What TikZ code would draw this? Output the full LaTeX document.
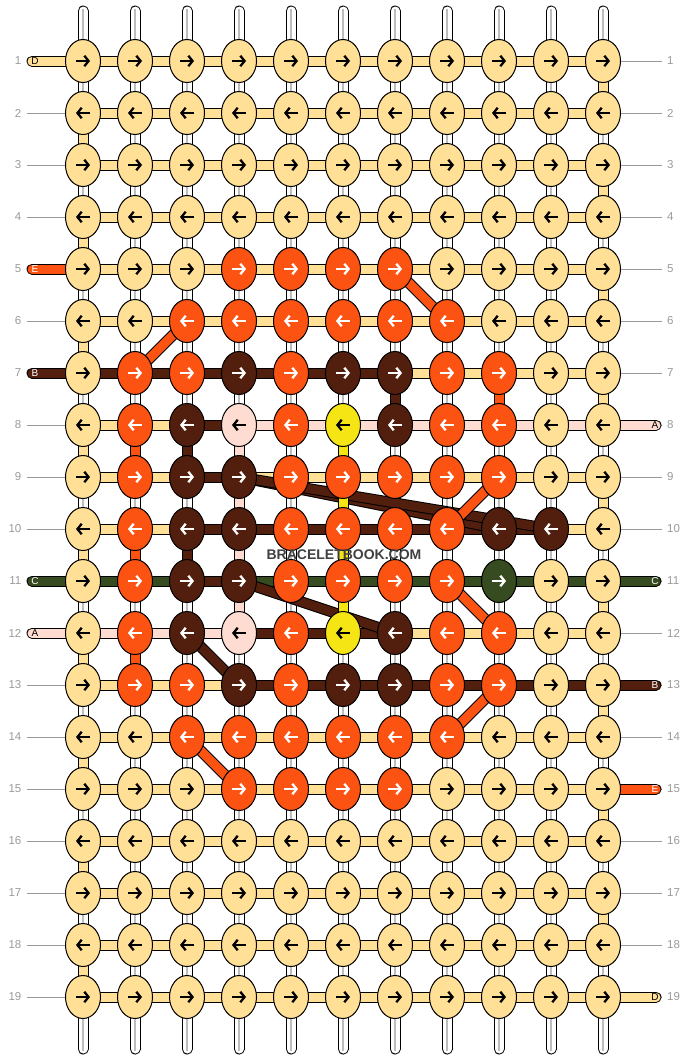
\documentclass[tikz,border=0pt]{standalone}
\usepackage{fontspec}
\setmainfont{Liberation Sans}
\usetikzlibrary{shapes.geometric}
\usetikzlibrary{arrows.meta}
\usetikzlibrary{backgrounds}

\definecolor{cD}{HTML}{FFE096}
\definecolor{cE}{HTML}{FC5313}
\definecolor{cB}{HTML}{521F0F}
\definecolor{cC}{HTML}{364B1F}
\definecolor{cA}{HTML}{FFDCD1}
\definecolor{cY}{HTML}{F6E515}
\colorlet{aD}{black}
\colorlet{aE}{white}
\colorlet{aB}{white}
\colorlet{aC}{white}
\colorlet{aA}{black}
\colorlet{aY}{black}
\definecolor{numgray}{HTML}{9A9A9A}
\definecolor{warpgray}{HTML}{BDBDBD}
\definecolor{markgray}{HTML}{404040}

\begin{document}
\begin{tikzpicture}[x=1pt, y=-1pt,
  knot/.style={ellipse, draw=black, line width=1pt, minimum width=35pt, minimum height=43pt, inner sep=0pt},
  strand/.style={draw=black, line width=1pt, double=#1, double distance=9pt},
  warp/.style={strand=white, line cap=round},
  dirarrow/.style={line width=2.3pt, -{Straight Barb[length=4.2pt, width=10.5pt]}},
  rownum/.style={numgray, font=\fontsize{11.5}{11.5}\selectfont, inner sep=0pt},
  tag/.style={font=\fontsize{10}{10}\selectfont, inner sep=0pt}]
\useasboundingbox (0,0) rectangle (688,1060);
\foreach \r/\row in {
  1/{D,D,D,D,D,D,D,D,D,D,D},
  2/{D,D,D,D,D,D,D,D,D,D,D},
  3/{D,D,D,D,D,D,D,D,D,D,D},
  4/{D,D,D,D,D,D,D,D,D,D,D},
  5/{D,D,D,E,E,E,E,D,D,D,D},
  6/{D,D,E,E,E,E,E,E,D,D,D},
  7/{D,E,E,B,E,B,B,E,E,D,D},
  8/{D,E,B,A,E,Y,B,E,E,D,D},
  9/{D,E,B,B,E,E,E,E,E,D,D},
  10/{D,E,B,B,E,E,E,E,B,B,D},
  11/{D,E,B,B,E,E,E,E,C,D,D},
  12/{D,E,B,A,E,Y,B,E,E,D,D},
  13/{D,E,E,B,E,B,B,E,E,D,D},
  14/{D,D,E,E,E,E,E,E,D,D,D},
  15/{D,D,D,E,E,E,E,D,D,D,D},
  16/{D,D,D,D,D,D,D,D,D,D,D},
  17/{D,D,D,D,D,D,D,D,D,D,D},
  18/{D,D,D,D,D,D,D,D,D,D,D},
  19/{D,D,D,D,D,D,D,D,D,D,D}} {
  \foreach \k [count=\c] in \row {
    \node[knot, fill=c\k] (k\r-\c) at ({83+52*(\c-1)}, {61+52*(\r-1)}) {};
    \pgfmathsetmacro{\dir}{1-2*mod(\r+1,2)}
    \draw[a\k, dirarrow] (k\r-\c.center) ++({-7*\dir},0) -- ++({14*\dir},0);
  }
  \node[rownum, anchor=east] (nl\r) at (21.5, {61+52*(\r-1)}) {\r};
  \node[rownum, anchor=west] (nr\r) at (667, {61+52*(\r-1)}) {\r};
}
\begin{scope}[on background layer]
\foreach \c in {1,...,11} {
  \coordinate (top\c) at ([yshift=50pt]k1-\c.center);
  \coordinate (bot\c) at ([yshift=-52pt]k19-\c.center);
  \draw[warp] (top\c) -- (bot\c);
  \draw[warpgray, line width=1.3pt] ([yshift=2pt]top\c) -- ([yshift=-2pt]bot\c);
}
\foreach \r in {1,...,19} {
  \draw[numgray, line width=0.7pt] ([xshift=5.5pt]nl\r.east) -- (k\r-1.west);
  \draw[numgray, line width=0.7pt] (k\r-11.east) -- ([xshift=-5pt]nr\r.west);
  \draw[strand=cD] (k\r-1.center) -- (k\r-11.center);
}
\foreach \r/\a/\b/\s in {7/1/7/B, 8/3/4/B, 8/4/11/A, 9/3/4/B, 10/3/10/B, 11/1/11/C, 11/3/4/B, 12/1/4/A, 12/4/7/B, 13/4/11/B}
  \draw[strand=c\s] (k\r-\a.center) -- (k\r-\b.center);
\foreach \r/\s in {1/D, 5/E, 7/B, 11/C, 12/A} {
  \coordinate (in\r) at (32, {61+52*(\r-1)});
  \draw[strand=c\s, line cap=round] (in\r) -- (k\r-1.center);
  \node[tag, a\s] (tl\r) at (35, {61+52*(\r-1)}) {\s};
}
\foreach \r/\s in {8/A, 11/C, 13/B, 15/E, 19/D} {
  \coordinate (out\r) at (656, {61+52*(\r-1)});
  \draw[strand=c\s, line cap=round] (k\r-11.center) -- (out\r);
  \node[tag, a\s] (tr\r) at (655, {61+52*(\r-1)}) {\s};
}
\foreach \ra/\ca/\rb/\cb/\s in {9/4/10/9/B, 9/4/10/10/B, 11/4/12/7/B, 12/3/13/4/B, 5/7/6/8/E, 6/3/7/2/E, 9/9/10/8/E, 11/8/12/9/E, 13/9/14/8/E, 14/3/15/4/E}
  \draw[strand=c\s] (k\ra-\ca.center) -- (k\rb-\cb.center);
\foreach \c/\ra/\rb/\s in {7/7/8/B, 9/7/8/E, 2/8/9/E, 3/8/9/B, 4/8/12/A, 6/8/12/Y, 2/10/11/E, 3/10/11/B, 2/12/13/E}
  \draw[strand=c\s] (k\ra-\c.center) -- (k\rb-\c.center);
\foreach \r [evaluate=\r as \rr using int(\r+1)] in {2,4,...,18}
  \draw[strand=cD] (k\r-1.center) -- (k\rr-1.center);
\foreach \r [evaluate=\r as \rr using int(\r+1)] in {1,3,...,17}
  \draw[strand=cD] (k\r-11.center) -- (k\rr-11.center);
\end{scope}
\node[markgray, font=\fontsize{14}{14}\selectfont\bfseries] (mark) at (344,555) {BRACELETBOOK.COM};
\end{tikzpicture}
\end{document}
